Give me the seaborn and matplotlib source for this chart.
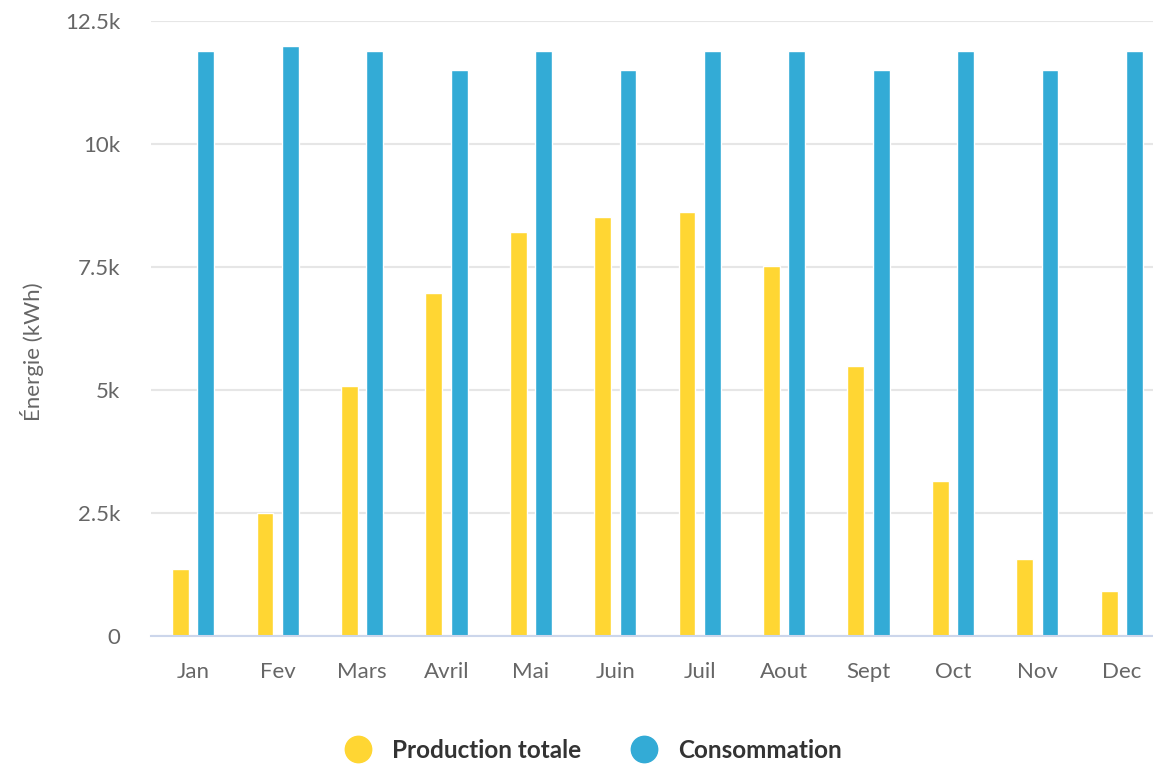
import matplotlib
matplotlib.use("Agg")
import matplotlib.pyplot as plt
from matplotlib.lines import Line2D
import pandas as pd
import seaborn as sns

# monthly energy data (kWh)
months = ["Jan", "Fev", "Mars", "Avril", "Mai", "Juin",
          "Juil", "Aout", "Sept", "Oct", "Nov", "Dec"]
production = [1360, 2500, 5080, 6970, 8210, 8520, 8620, 7520, 5490, 3150, 1570, 910]
consommation = [11890, 11990, 11890, 11500, 11890, 11500,
                11890, 11890, 11500, 11890, 11500, 11890]
series_names = ["Production totale", "Consommation"]
colors = ["#FFD633", "#33ABD6"]
y_ticks = [0, 2500, 5000, 7500, 10000, 12500]
y_tick_labels = ["0", "2.5k", "5k", "7.5k", "10k", "12.5k"]

df = pd.DataFrame({
    "mois": months * 2,
    "valeur": production + consommation,
    "serie": [series_names[0]] * len(months) + [series_names[1]] * len(months),
})

sns.set_theme(style="white")
plt.rcParams["font.family"] = ["Lato", "DejaVu Sans"]

fig = plt.figure(figsize=(11.53, 7.68), dpi=100)
ax = fig.add_axes([151 / 1153, 132 / 768, (1164 - 151) / 1153, 615 / 768])

sns.barplot(data=df, x="mois", y="valeur", hue="serie", order=months,
            hue_order=series_names, palette=dict(zip(series_names, colors)),
            width=0.6, gap=0.333, saturation=1, legend=False, ax=ax, zorder=1)

ax.set_ylim(0, 12500)
ax.set_xlim(-0.5, len(months) - 0.5)
ax.set_yticks(y_ticks)
ax.set_yticklabels(y_tick_labels)
ax.yaxis.grid(True, color="#e6e6e6", linewidth=1.5, zorder=0)
ax.set_axisbelow(True)
for s in ["top", "right", "left"]:
    ax.spines[s].set_visible(False)
ax.spines["bottom"].set_color("#ccd6eb")
ax.spines["bottom"].set_linewidth(1.5)

ax.tick_params(axis="both", length=0, labelsize=16, labelcolor="#666666")
ax.tick_params(axis="x", pad=19)
ax.tick_params(axis="y", pad=22)
ax.set_xlabel("")
ax.set_ylabel("Énergie (kWh)", fontsize=16, color="#666666")
ax.yaxis.set_label_coords(-0.106, 0.462)

handles = [Line2D([0], [0], marker="o", linestyle="", markersize=19,
                  markerfacecolor=c, markeredgecolor=c) for c in colors]
fig.legend(handles, series_names, loc="center", bbox_to_anchor=(588 / 1153, 1 - 750 / 768),
           ncol=2, frameon=False, handletextpad=0.4, columnspacing=1.6,
           prop={"size": 17.5, "weight": "bold"}, labelcolor="#333333")

fig.savefig("out.png", dpi=100)
